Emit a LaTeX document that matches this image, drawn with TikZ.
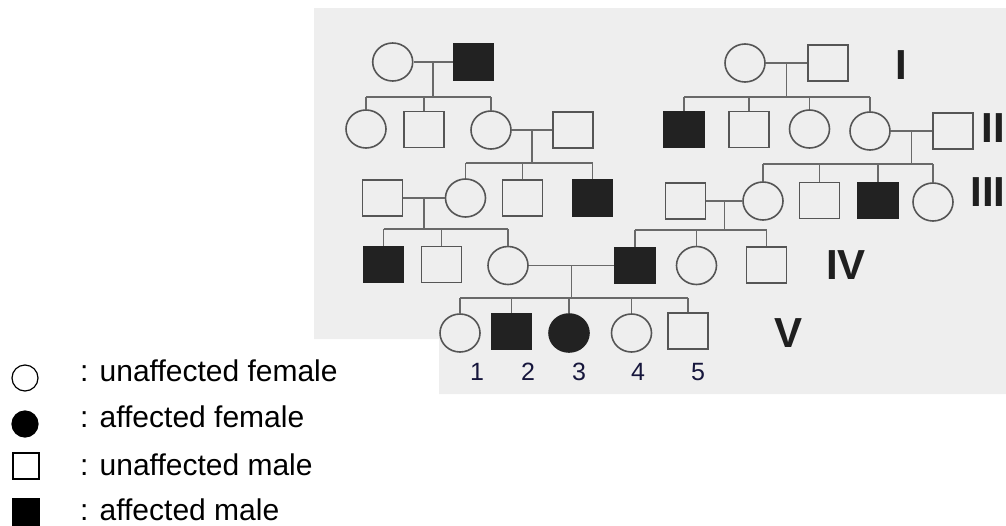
\documentclass[tikz,border=0pt]{standalone}
\usepackage{fontspec}
\setmainfont{Liberation Sans}
\usetikzlibrary{shapes.geometric}

\definecolor{paper}{RGB}{238,238,238}
\definecolor{pedline}{RGB}{85,85,85}
\definecolor{linkcol}{RGB}{105,105,105}
\definecolor{pedfill}{RGB}{34,34,34}
\definecolor{numcol}{RGB}{22,22,60}

\begin{document}
\begin{tikzpicture}[x=1pt,y=-1pt,
  fem/.style={ellipse, draw=pedline, line width=1.6pt, minimum width=40pt, minimum height=38pt, inner sep=0pt},
  mal/.style={rectangle, draw=pedline, line width=1.6pt, minimum width=40pt, minimum height=36pt, inner sep=0pt},
  aff/.style={fill=pedfill, draw=pedfill},
  link/.style={draw=linkcol, line width=1.4pt},
  gen/.style={font=\fontsize{42}{42}\selectfont\bfseries, inner sep=0pt, text=black!88},
  num/.style={font=\fontsize{25}{25}\selectfont, text=numcol, inner sep=0pt},
  key/.style={font=\fontsize{30}{30}\selectfont, anchor=base west, inner sep=0pt},
  keysym/.style={draw=black, line width=1.2pt, inner sep=0pt},
]
\useasboundingbox (0,0) rectangle (1006,525);

% scanned pedigree sheet
\fill[paper] (314,8) -- (1006,8) -- (1006,394) -- (439,394) -- (439,339) -- (314,339) -- cycle;

% generation I
\node[fem] (Ia) at (392.7,62) {};
\node[mal,aff] (Ib) at (473.5,62) {};
\node[fem] (Ic) at (745,63) {};
\node[mal] (Id) at (828,63) {};

% generation II
\node[fem] (IIa) at (366,129) {};
\node[mal] (IIb) at (424,129.5) {};
\node[fem] (IIc) at (491,130) {};
\node[mal] (IId) at (573,130) {};
\node[mal,aff] (IIe) at (684,129.5) {};
\node[mal] (IIf) at (749,129.5) {};
\node[fem] (IIg) at (809.5,129) {};
\node[fem] (IIh) at (870,131) {};
\node[mal] (IIi) at (953,131) {};

% generation III
\node[mal] (IIIa) at (382.5,198) {};
\node[fem] (IIIb) at (465.5,198) {};
\node[mal] (IIIc) at (522.5,198) {};
\node[mal,aff] (IIId) at (592.5,198) {};
\node[mal] (IIIe) at (685.5,201) {};
\node[fem] (IIIf) at (763,201) {};
\node[mal] (IIIg) at (819.5,200.5) {};
\node[mal,aff] (IIIh) at (878,200.5) {};
\node[fem] (IIIi) at (933,202) {};

% generation IV
\node[mal,aff] (IVa) at (383.5,264.5) {};
\node[mal] (IVb) at (441.5,264.5) {};
\node[fem] (IVc) at (508,265.5) {};
\node[mal,aff] (IVd) at (635,265.5) {};
\node[fem] (IVe) at (696.5,265.5) {};
\node[mal] (IVf) at (766.5,265) {};

% generation V
\node[fem] (Va) at (460,333) {};
\node[mal,aff] (Vb) at (511.5,331.5) {};
\node[fem,aff] (Vc) at (569,333) {};
\node[fem] (Vd) at (631.5,333) {};
\node[mal] (Ve) at (688,331) {};

% sibship levels
\coordinate (s1) at (0,97);
\coordinate (s2) at (0,97);
\coordinate (s3) at (0,163);
\coordinate (s4) at (0,164);
\coordinate (s5) at (0,229);
\coordinate (s6) at (0,230);
\coordinate (s7) at (0,298);

% matings and descent lines
\draw[link] (Ia) -- (Ib) coordinate[midway] (m1);
\draw[link] (Ic) -- (Id) coordinate[midway] (m2);
\draw[link] (IIc) -- (IId) coordinate[midway] (m3);
\draw[link] (IIh) -- (IIi) coordinate[midway] (m4);
\draw[link] (IIIa) -- (IIIb) coordinate[midway] (m5);
\draw[link] (IIIe) -- (IIIf) coordinate[midway] (m6);
\draw[link] (IVc) -- (IVd) coordinate[midway] (m7);
\foreach \m/\s in {m1/s1,m2/s2,m3/s3,m4/s4,m5/s5,m6/s6,m7/s7}
  \draw[link] (\m) -- (\m |- \s);

% sibship bars
\draw[link] (IIa.north |- s1) -- (IIc.north |- s1);
\draw[link] (IIe.north |- s2) -- (IIh.north |- s2);
\draw[link] (IIIb.north |- s3) -- (IIId.north |- s3);
\draw[link] (IIIf.north |- s4) -- (IIIi.north |- s4);
\draw[link] (IVa.north |- s5) -- (IVc.north |- s5);
\draw[link] (IVd.north |- s6) -- (IVf.north |- s6);
\draw[link] (Va.north |- s7) -- (Ve.north |- s7);

% drops to each child
\foreach \c/\s in {IIa/s1,IIb/s1,IIc/s1,IIe/s2,IIf/s2,IIg/s2,IIh/s2,
                   IIIb/s3,IIIc/s3,IIId/s3,IIIf/s4,IIIg/s4,IIIh/s4,IIIi/s4,
                   IVa/s5,IVb/s5,IVc/s5,IVd/s6,IVe/s6,IVf/s6,
                   Va/s7,Vb/s7,Vc/s7,Vd/s7,Ve/s7}
  \draw[link] (\c.north) -- (\c.north |- \s);

% generation numerals
\node[gen] (gI) at (901,65) {I};
\node[gen, anchor=east] (gII) at (1005,128) {II};
\node[gen] (gIII) at (988,192) {III};
\node[gen] (gIV) at (846,265) {IV};
\node[gen] (gV) at (788.5,333) {V};

% individual numbers, generation V
\node[num] (n1) at (477,372) {1};
\node[num] (n2) at (528,372) {2};
\node[num] (n3) at (579,372) {3};
\node[num] (n4) at (638,372) {4};
\node[num] (n5) at (698,372) {5};

% key
\node[keysym, circle, minimum size=26pt] (k1) at (25,378) {};
\node[keysym, circle, minimum size=26pt, fill=black] (k2) at (25,424) {};
\node[keysym, rectangle, minimum size=26pt] (k3) at (26,466) {};
\node[keysym, rectangle, minimum size=26pt, fill=black] (k4) at (26,512) {};
\node[key] (t1) at (80,381) {: unaffected female};
\node[key] (t2) at (80,427) {: affected female};
\node[key] (t3) at (80,475) {: unaffected male};
\node[key] (t4) at (80,520) {: affected male};
\end{tikzpicture}
\end{document}
